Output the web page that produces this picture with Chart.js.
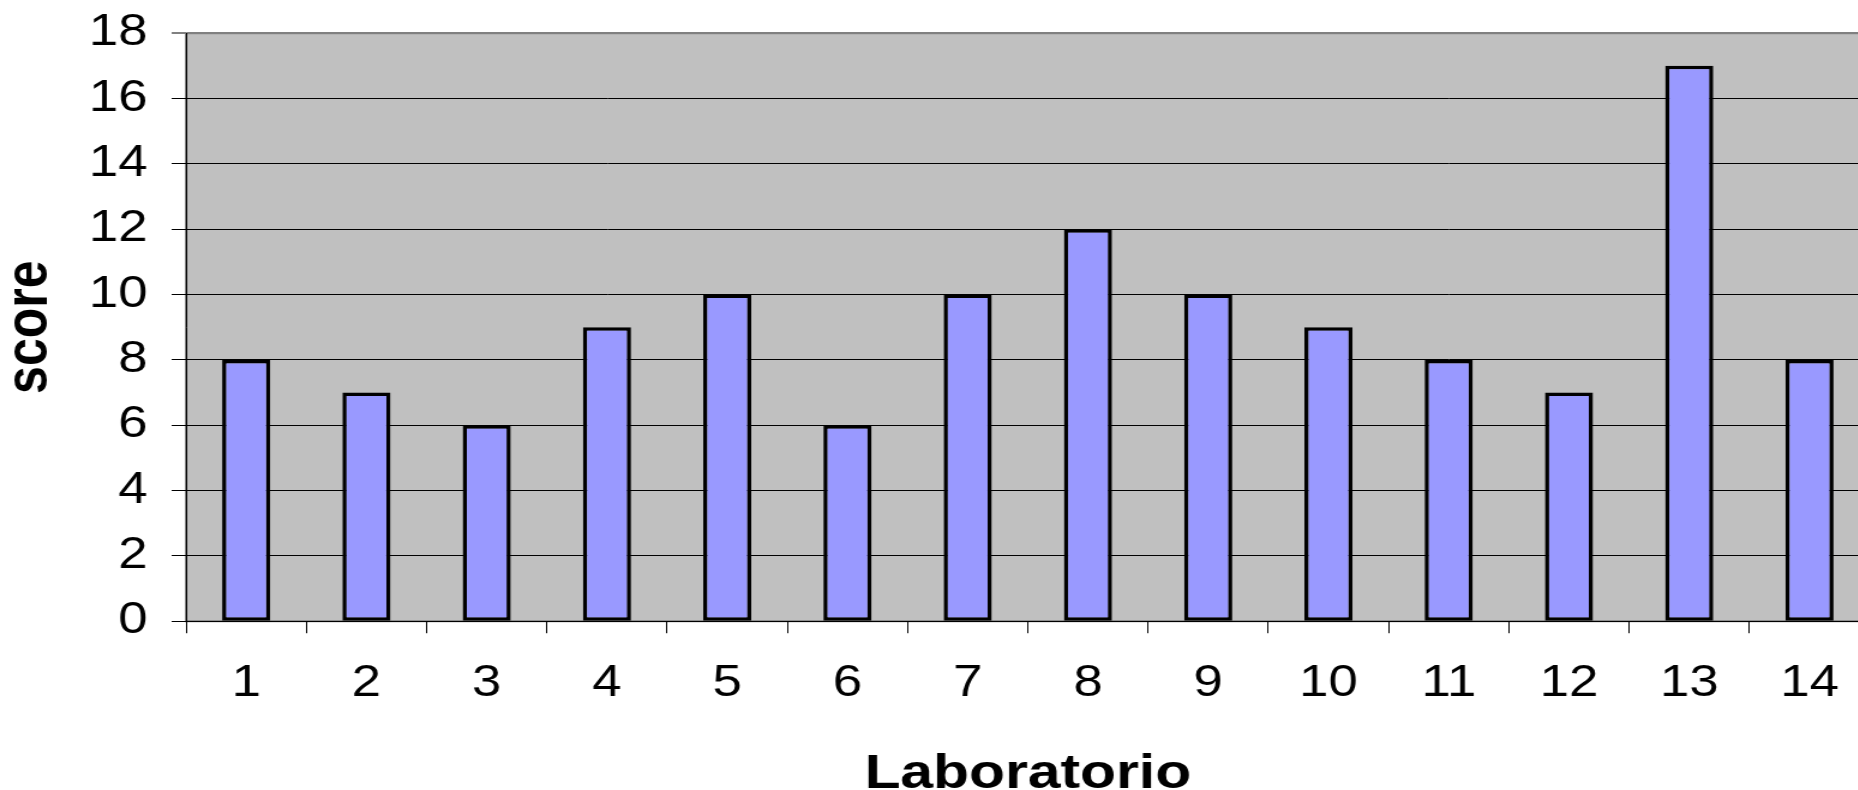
<!DOCTYPE html>
<html>
<head>
<meta charset="utf-8">
<script src="https://cdn.jsdelivr.net/npm/chart.js@4.4.1/dist/chart.umd.min.js"></script>
<style>
  html, body { margin: 0; padding: 0; overflow: hidden; background: #fff; }
  /* the original picture is stretched sideways, so the chart is drawn narrower and widened */
  #wrap { width: 1570px; height: 790px; transform: scaleX(1.2); transform-origin: 0 0; }
</style>
</head>
<body>
<div id="wrap"><canvas id="chart"></canvas></div>
<script>
"use strict"

const labs = ['1', '2', '3', '4', '5', '6', '7', '8', '9', '10', '11', '12', '13', '14'];
const scores = [8, 7, 6, 9, 10, 6, 10, 12, 10, 9, 8, 7, 17, 8];
const yMin = 0;
const yMax = 18;
const yStep = 2;

const fontFamily = "'Liberation Sans', Arial, sans-serif";

// grey plot area like the old spreadsheet charts
const plotBackground = {
  id: 'plotBackground',
  beforeDraw(chart) {
    const { ctx, chartArea: a } = chart;
    ctx.save();
    ctx.fillStyle = '#c0c0c0';
    ctx.fillRect(a.left, a.top, a.right - a.left, a.bottom - a.top);
    ctx.strokeStyle = '#808080';
    ctx.lineWidth = 2;
    ctx.strokeRect(a.left, a.top, a.right - a.left, a.bottom - a.top);
    ctx.restore();
  }
};

new Chart(document.getElementById('chart'), {
  type: 'bar',
  data: {
    labels: labs,
    datasets: [{
      label: 'score',
      data: scores,
      backgroundColor: '#9999ff',
      borderColor: '#000',
      borderWidth: 3.5,
      borderSkipped: false,
      barPercentage: 0.4,
      categoryPercentage: 1
    }]
  },
  options: {
    responsive: true,
    maintainAspectRatio: false,
    animation: false,
    layout: { padding: { top: 33, right: 12, left: 0, bottom: 0 } },
    plugins: {
      legend: { display: false },
      tooltip: { enabled: false }
    },
    scales: {
      x: {
        grid: {
          offset: true,
          drawOnChartArea: false,
          tickLength: 12,
          color: '#000',
          lineWidth: 1
        },
        border: { color: '#000', width: 1 },
        ticks: {
          color: '#000',
          padding: 23.8,
          maxRotation: 0,
          autoSkip: false,
          font: { family: fontFamily, size: 44 }
        },
        title: {
          display: true,
          text: 'Laboratorio',
          color: '#000',
          padding: { top: 26, bottom: 0 },
          font: { family: fontFamily, size: 49, weight: 'bold', lineHeight: 0.62 }
        }
      },
      y: {
        min: yMin,
        max: yMax,
        grid: {
          tickLength: 12,
          color: ctx => (ctx.tick && ctx.tick.value === yMax) ? '#808080' : '#000',
          lineWidth: ctx => (ctx.tick && ctx.tick.value === yMax) ? 2 : 1
        },
        border: { color: '#000', width: 1 },
        ticks: {
          stepSize: yStep,
          color: '#000',
          padding: 20,
          // small line height so the top label does not push the plot down
          font: { family: fontFamily, size: 44, lineHeight: 0.6 }
        },
        title: {
          display: true,
          text: 'score',
          color: '#000',
          padding: { top: 0, bottom: 3.1 },
          font: { family: fontFamily, size: 50, weight: 'bold', lineHeight: 1.02 }
        }
      }
    }
  },
  plugins: [plotBackground]
});
</script>
</body>
</html>
